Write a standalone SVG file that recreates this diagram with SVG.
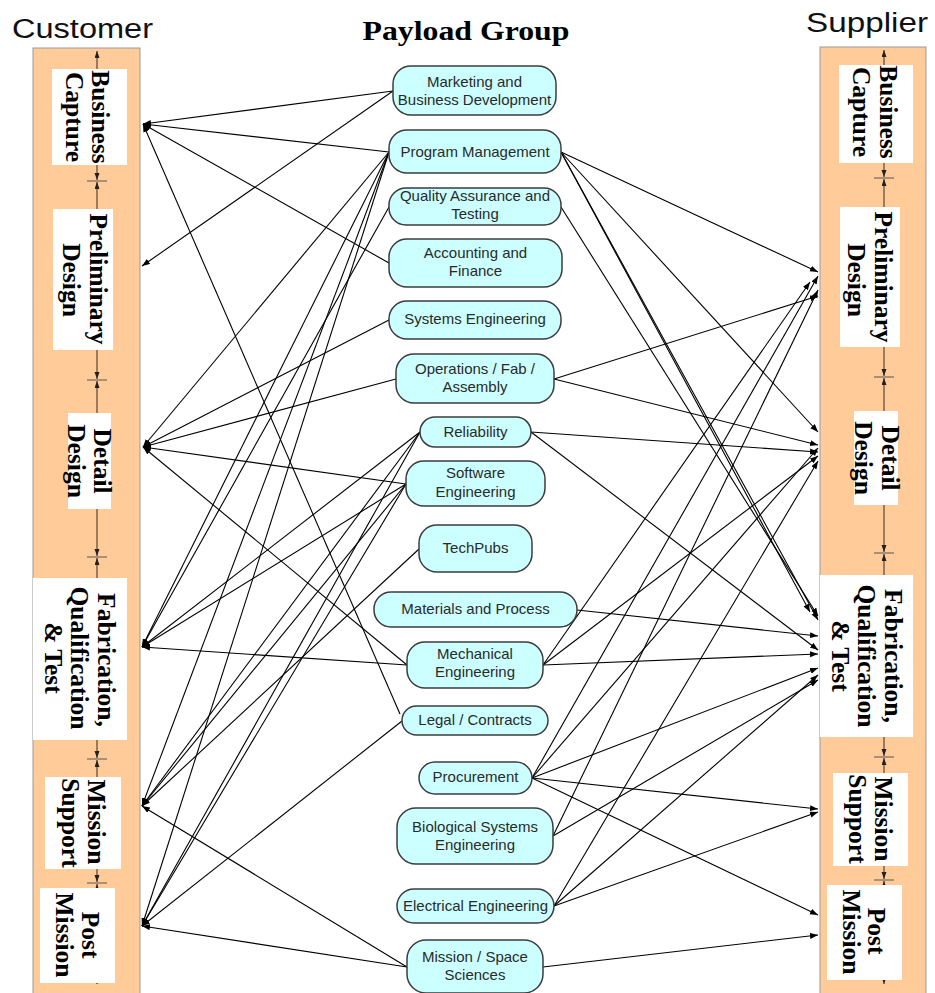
<svg xmlns="http://www.w3.org/2000/svg" width="935" height="993" viewBox="0 0 935 993">
  <defs>
    <marker id="tip" markerUnits="userSpaceOnUse" markerWidth="9" markerHeight="7" refX="8" refY="3" orient="auto">
      <path d="M0,0 L8,3 L0,6 z" fill="#000"/>
    </marker>
    <marker id="axTip" markerUnits="userSpaceOnUse" markerWidth="8" markerHeight="6" refX="7" refY="2.5" orient="auto-start-reverse">
      <path d="M0,0 L7,2.5 L0,5 z" fill="#222"/>
    </marker>
  </defs>
  <style>
    .col { fill: #FFCC99; stroke: #999; stroke-width: 1; }
    .axis { stroke: #3a2a1a; stroke-width: 1; fill: none; marker-start: url(#axTip); marker-end: url(#axTip); }
    .tick { stroke: #555; stroke-width: 1; }
    .phase { fill: #fff; }
    .ph { font-family: "Liberation Serif", "Times New Roman", serif; font-weight: bold; font-size: 25.5px; fill: #000; text-anchor: middle; }
    .title { font-family: "Liberation Sans", Arial, sans-serif; font-size: 27px; fill: #111; }
    .grp { font-family: "Liberation Serif", "Times New Roman", serif; font-weight: bold; font-size: 28px; fill: #000; text-anchor: middle; }
    .node rect { fill: #CCFFFF; stroke: #3c3c3c; stroke-width: 1.5; }
    .node text { font-family: "Liberation Sans", Arial, sans-serif; font-size: 15px; fill: #2a2a2a; text-anchor: middle; }
    #connectors line { stroke: #000; stroke-width: 1.1; marker-end: url(#tip); }
  </style>

  <rect width="935" height="993" fill="#fff"/>

  <!-- titles -->
  <text class="title" x="12" y="38" textLength="141" lengthAdjust="spacingAndGlyphs">Customer</text>
  <text class="title" x="806" y="32" textLength="122" lengthAdjust="spacingAndGlyphs">Supplier</text>
  <text class="grp" x="466" y="40" textLength="207" lengthAdjust="spacingAndGlyphs">Payload Group</text>

  <!-- customer lifecycle column -->
  <g id="customer">
    <rect class="col" x="33" y="48" width="107" height="952"/>
    <line class="axis" x1="97" y1="51" x2="97" y2="180"/>
    <line class="axis" x1="97" y1="182" x2="97" y2="379"/>
    <line class="axis" x1="97" y1="381" x2="97" y2="556"/>
    <line class="axis" x1="97" y1="558" x2="97" y2="758"/>
    <line class="axis" x1="97" y1="760" x2="97" y2="882"/>
    <line class="axis" x1="97" y1="884" x2="97" y2="984"/>
    <line class="tick" x1="87" y1="181" x2="107" y2="181"/>
    <line class="tick" x1="87" y1="380" x2="107" y2="380"/>
    <line class="tick" x1="87" y1="557" x2="107" y2="557"/>
    <line class="tick" x1="87" y1="759" x2="107" y2="759"/>
    <line class="tick" x1="87" y1="883" x2="107" y2="883"/>
    <g id="c-business-capture">
      <rect class="phase" x="52" y="69" width="75" height="96"/>
      <text class="ph" transform="translate(92,117) rotate(90)">Business</text>
      <text class="ph" transform="translate(66,117) rotate(90)">Capture</text>
    </g>
    <g id="c-preliminary-design">
      <rect class="phase" x="53" y="209" width="60" height="141"/>
      <text class="ph" transform="translate(90,279) rotate(90)">Preliminary</text>
      <text class="ph" transform="translate(63,280) rotate(90)">Design</text>
    </g>
    <g id="c-detail-design">
      <rect class="phase" x="68" y="413" width="43" height="96"/>
      <text class="ph" transform="translate(94,461) rotate(90)">Detail</text>
      <text class="ph" transform="translate(68,461) rotate(90)">Design</text>
    </g>
    <g id="c-fab-qual-test">
      <rect class="phase" x="33" y="578" width="94" height="162"/>
      <text class="ph" transform="translate(98,660) rotate(90)">Fabrication,</text>
      <text class="ph" transform="translate(71,658) rotate(90)">Qualification</text>
      <text class="ph" transform="translate(45,658) rotate(90)">&amp; Test</text>
    </g>
    <g id="c-mission-support">
      <rect class="phase" x="45" y="777" width="76" height="92"/>
      <text class="ph" transform="translate(88,822) rotate(90)">Mission</text>
      <text class="ph" transform="translate(62,823) rotate(90)">Support</text>
    </g>
    <g id="c-post-mission">
      <rect class="phase" x="40" y="888" width="75" height="95"/>
      <text class="ph" transform="translate(82,935) rotate(90)">Post</text>
      <text class="ph" transform="translate(56,935) rotate(90)">Mission</text>
    </g>
  </g>

  <!-- supplier lifecycle column -->
  <g id="supplier">
    <rect class="col" x="820" y="47" width="106" height="953"/>
    <line class="axis" x1="884" y1="50" x2="884" y2="177"/>
    <line class="axis" x1="884" y1="179" x2="884" y2="376"/>
    <line class="axis" x1="884" y1="378" x2="884" y2="552"/>
    <line class="axis" x1="884" y1="554" x2="884" y2="756"/>
    <line class="axis" x1="884" y1="758" x2="884" y2="879"/>
    <line class="axis" x1="884" y1="881" x2="884" y2="984"/>
    <line class="tick" x1="874" y1="178" x2="894" y2="178"/>
    <line class="tick" x1="874" y1="377" x2="894" y2="377"/>
    <line class="tick" x1="874" y1="553" x2="894" y2="553"/>
    <line class="tick" x1="874" y1="757" x2="894" y2="757"/>
    <line class="tick" x1="874" y1="880" x2="894" y2="880"/>
    <g id="s-business-capture">
      <rect class="phase" x="839" y="65" width="74" height="98"/>
      <text class="ph" transform="translate(880,112) rotate(90)">Business</text>
      <text class="ph" transform="translate(853,112) rotate(90)">Capture</text>
    </g>
    <g id="s-preliminary-design">
      <rect class="phase" x="840" y="207" width="60" height="140"/>
      <text class="ph" transform="translate(875,277) rotate(90)">Preliminary</text>
      <text class="ph" transform="translate(848,280) rotate(90)">Design</text>
    </g>
    <g id="s-detail-design">
      <rect class="phase" x="854" y="411" width="44" height="94"/>
      <text class="ph" transform="translate(882,458) rotate(90)">Detail</text>
      <text class="ph" transform="translate(855,458) rotate(90)">Design</text>
    </g>
    <g id="s-fab-qual-test">
      <rect class="phase" x="820" y="575" width="93" height="162"/>
      <text class="ph" transform="translate(885,656) rotate(90)">Fabrication,</text>
      <text class="ph" transform="translate(858,656) rotate(90)">Qualification</text>
      <text class="ph" transform="translate(832,656) rotate(90)">&amp; Test</text>
    </g>
    <g id="s-mission-support">
      <rect class="phase" x="833" y="773" width="75" height="93"/>
      <text class="ph" transform="translate(875,819) rotate(90)">Mission</text>
      <text class="ph" transform="translate(849,819) rotate(90)">Support</text>
    </g>
    <g id="s-post-mission">
      <rect class="phase" x="827" y="885" width="75" height="95"/>
      <text class="ph" transform="translate(868,931) rotate(90)">Post</text>
      <text class="ph" transform="translate(843,932) rotate(90)">Mission</text>
    </g>
  </g>

  <!-- links from the payload group to each lifecycle phase -->
  <g id="connectors">
    <!-- customer side -->
    <line x1="393" y1="91" x2="143" y2="124"/>
    <line x1="393" y1="91" x2="142" y2="266"/>
    <line x1="389" y1="152" x2="143" y2="124"/>
    <line x1="389" y1="263" x2="143" y2="124"/>
    <line x1="400" y1="714" x2="143" y2="124"/>
    <line x1="389" y1="152" x2="143" y2="447"/>
    <line x1="389" y1="320" x2="143" y2="447"/>
    <line x1="396" y1="379" x2="143" y2="447"/>
    <line x1="406" y1="484" x2="143" y2="447"/>
    <line x1="407" y1="665" x2="143" y2="447"/>
    <line x1="389" y1="152" x2="142" y2="647"/>
    <line x1="389" y1="207" x2="142" y2="647"/>
    <line x1="420" y1="432" x2="142" y2="647"/>
    <line x1="406" y1="484" x2="142" y2="647"/>
    <line x1="407" y1="665" x2="142" y2="647"/>
    <line x1="389" y1="152" x2="142" y2="806"/>
    <line x1="420" y1="432" x2="142" y2="806"/>
    <line x1="406" y1="484" x2="142" y2="806"/>
    <line x1="419" y1="549" x2="142" y2="806"/>
    <line x1="407" y1="967" x2="142" y2="806"/>
    <line x1="389" y1="152" x2="142" y2="926"/>
    <line x1="420" y1="432" x2="142" y2="926"/>
    <line x1="406" y1="484" x2="142" y2="926"/>
    <line x1="402" y1="721" x2="142" y2="926"/>
    <line x1="407" y1="967" x2="142" y2="926"/>
    <!-- supplier side -->
    <line x1="561" y1="152" x2="818" y2="272"/>
    <line x1="561" y1="152" x2="818" y2="432"/>
    <line x1="561" y1="152" x2="810" y2="612"/>
    <line x1="561" y1="152" x2="818" y2="620"/>
    <line x1="561" y1="207" x2="818" y2="616"/>
    <line x1="554" y1="379" x2="818" y2="296"/>
    <line x1="554" y1="379" x2="818" y2="445"/>
    <line x1="531" y1="432" x2="818" y2="452"/>
    <line x1="531" y1="432" x2="818" y2="650"/>
    <line x1="577" y1="610" x2="818" y2="636"/>
    <line x1="543" y1="665" x2="810" y2="282"/>
    <line x1="543" y1="665" x2="818" y2="456"/>
    <line x1="543" y1="665" x2="818" y2="654"/>
    <line x1="532" y1="778" x2="818" y2="276"/>
    <line x1="532" y1="778" x2="818" y2="448"/>
    <line x1="532" y1="778" x2="818" y2="668"/>
    <line x1="532" y1="778" x2="818" y2="809"/>
    <line x1="532" y1="778" x2="818" y2="915"/>
    <line x1="553" y1="836" x2="818" y2="290"/>
    <line x1="553" y1="836" x2="818" y2="680"/>
    <line x1="554" y1="906" x2="818" y2="461"/>
    <line x1="554" y1="906" x2="818" y2="675"/>
    <line x1="554" y1="906" x2="818" y2="812"/>
    <line x1="543" y1="967" x2="818" y2="935"/>
  </g>

  <!-- payload group disciplines -->
  <g id="marketing" class="node">
    <rect x="393" y="66" width="163" height="49" rx="18"/>
    <text x="474.5" y="87">Marketing and</text>
    <text x="474.5" y="105">Business Development</text>
  </g>
  <g id="program-management" class="node">
    <rect x="389" y="130" width="172" height="43" rx="18"/>
    <text x="475" y="157">Program Management</text>
  </g>
  <g id="quality-assurance" class="node">
    <rect x="389" y="188" width="172" height="37" rx="17"/>
    <text x="475" y="201">Quality Assurance and</text>
    <text x="475" y="219">Testing</text>
  </g>
  <g id="accounting" class="node">
    <rect x="389" y="239" width="173" height="48" rx="18"/>
    <text x="475.5" y="258">Accounting and</text>
    <text x="475.5" y="276">Finance</text>
  </g>
  <g id="systems-engineering" class="node">
    <rect x="389" y="301" width="172" height="38" rx="18"/>
    <text x="475" y="324">Systems Engineering</text>
  </g>
  <g id="operations" class="node">
    <rect x="396" y="354" width="158" height="49" rx="18"/>
    <text x="475" y="374">Operations / Fab /</text>
    <text x="475" y="392">Assembly</text>
  </g>
  <g id="reliability" class="node">
    <rect x="420" y="417" width="111" height="30" rx="15"/>
    <text x="475.5" y="437">Reliability</text>
  </g>
  <g id="software-engineering" class="node">
    <rect x="406" y="461" width="139" height="45" rx="18"/>
    <text x="475.5" y="478">Software</text>
    <text x="475.5" y="497">Engineering</text>
  </g>
  <g id="techpubs" class="node">
    <rect x="419" y="525" width="113" height="47" rx="18"/>
    <text x="475.5" y="553">TechPubs</text>
  </g>
  <g id="materials" class="node">
    <rect x="374" y="592" width="203" height="35" rx="17"/>
    <text x="475.5" y="614">Materials and Process</text>
  </g>
  <g id="mechanical-engineering" class="node">
    <rect x="407" y="642" width="136" height="46" rx="18"/>
    <text x="475" y="659">Mechanical</text>
    <text x="475" y="677">Engineering</text>
  </g>
  <g id="legal" class="node">
    <rect x="402" y="706" width="146" height="29" rx="14.5"/>
    <text x="475" y="725">Legal / Contracts</text>
  </g>
  <g id="procurement" class="node">
    <rect x="419" y="762" width="113" height="32" rx="16"/>
    <text x="475.5" y="782">Procurement</text>
  </g>
  <g id="biological-systems" class="node">
    <rect x="397" y="808" width="156" height="56" rx="19"/>
    <text x="475" y="832">Biological Systems</text>
    <text x="475" y="850">Engineering</text>
  </g>
  <g id="electrical-engineering" class="node">
    <rect x="397" y="889" width="157" height="34" rx="17"/>
    <text x="475.5" y="911">Electrical Engineering</text>
  </g>
  <g id="mission-sciences" class="node">
    <rect x="407" y="940" width="136" height="53" rx="19"/>
    <text x="475" y="962">Mission / Space</text>
    <text x="475" y="980">Sciences</text>
  </g>
</svg>
